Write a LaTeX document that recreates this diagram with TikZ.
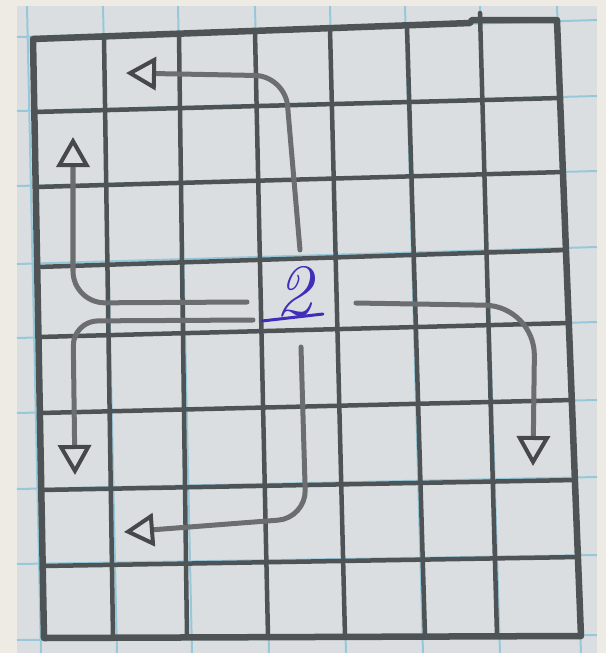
\documentclass[tikz,border=0pt]{standalone}
\usetikzlibrary{arrows.meta}
\definecolor{cream}{RGB}{238,235,228}
\definecolor{paper}{RGB}{219,222,225}
\definecolor{paperblue}{RGB}{150,200,218}
\definecolor{pencilgray}{RGB}{78,84,86}
\definecolor{arrowgray}{RGB}{108,109,111}
\definecolor{headgray}{RGB}{70,72,74}
\definecolor{inkblue}{RGB}{62,46,185}
\tikzset{
  bluegrid/.style={draw=paperblue, line width=0.02cm},
  pencil/.style={draw=pencilgray, line width=0.045cm, line cap=round},
  borderline/.style={draw=pencilgray, line width=0.065cm, line join=round},
  arr/.style={draw=arrowgray, line width=0.05cm, line cap=round,
    -{Triangle[open, length=0.3cm, width=0.33cm, line width=0.04cm, color=headgray]}},
  ink/.style={text=inkblue, font=\fontsize{21}{21}\selectfont\itshape}
}
\begin{document}
\begin{tikzpicture}[x=0.01cm,y=-0.01cm]
\useasboundingbox (0,0) rectangle (606,653);
\fill[cream] (0,0) rectangle (606,653);
\fill[paper] (17,6) rectangle (597,653);
% faint blue paper grid
\foreach \xt/\xb in {27/41,103/117,178/192,255/269,330/346,405/423,480/500,557/581}
  \draw[bluegrid] (\xt,6) -- (\xb,653);
\foreach \yl/\yr in {37/20,111/96,186/171,264/247,338/322,413/400,489/477,564/555,640/635}
  \draw[bluegrid] (17,\yl) -- (597,\yr);
% pencil grid
\draw[borderline] (33,39) -- (470,23) -- (472,20) -- (557,20) -- (581,636) -- (44,638) -- cycle;
\foreach \xt/\yt/\xb/\yb in {104/36.6/113/637.6, 179/34/187/637.2, 255/31.4/268/636.7,
  330/28.8/345/636.3, 407/26.2/425/635.9, 480/13/497/635.5}
  \draw[pencil] (\xt,\yt) -- (\xb,\yb);
\foreach \xl/\yl/\xr/\yr in {34.3/112/560.1/98, 35.7/187/563.1/172, 37.2/267/566.3/250,
  38.5/337/569.3/323, 39.9/413/572.4/400, 41.3/490/575.7/480, 42.7/566/578.7/557}
  \draw[pencil] (\xl,\yl) -- (\xr,\yr);
% centre label
\node[ink, anchor=base, inner sep=0pt] (two) at (294,315) {2};
\draw[draw=inkblue, line width=0.03cm, line cap=round] (262,321) -- (323,314);
% arrow coordinates
\coordinate (tA) at (300,250); \coordinate (tC) at (285,76);  \coordinate (tE) at (126,73);
\coordinate (uA) at (247,302); \coordinate (uC) at (73,303);  \coordinate (uE) at (73,137);
\coordinate (lA) at (253,320); \coordinate (lC) at (73,321);  \coordinate (lE) at (75,475);
\coordinate (rA) at (356,303); \coordinate (rC) at (535,306); \coordinate (rE) at (533,466);
\coordinate (bA) at (301,347); \coordinate (bC) at (306,518); \coordinate (bE) at (124,532);
\draw[arr, rounded corners=0.3cm] (tA) -- (tC) -- (tE);
\draw[arr, rounded corners=0.32cm] (uA) -- (uC) -- (uE);
\draw[arr, rounded corners=0.25cm] (lA) -- (lC) -- (lE);
\draw[arr, rounded corners=0.5cm] (rA) -- (rC) -- (rE);
\draw[arr, rounded corners=0.28cm] (bA) -- (bC) -- (bE);
\end{tikzpicture}
\end{document}
